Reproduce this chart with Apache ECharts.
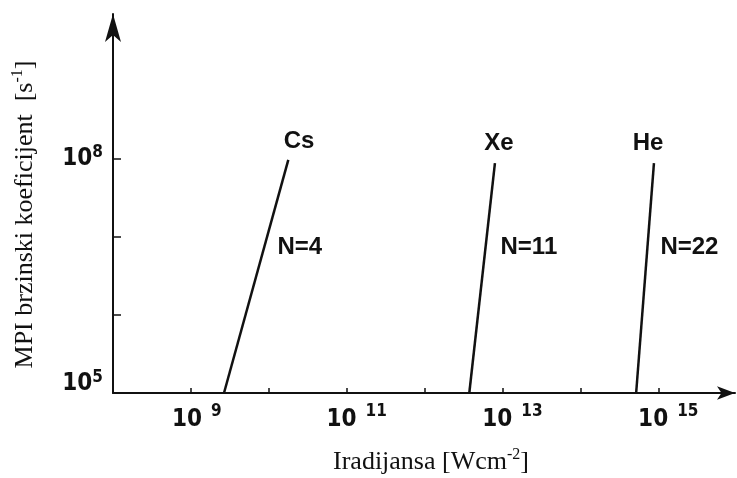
<!DOCTYPE html>
<html>
<head>
<meta charset="utf-8">
<script src="https://cdn.jsdelivr.net/npm/echarts@6/dist/echarts.min.js"></script>
<style>
  html, body { margin: 0; padding: 0; background: #ffffff; }
  #chart { width: 737px; height: 478px; }
</style>
</head>
<body>
<div id="chart"></div>
<script>
// ---- data ----
const elements = ['Cs', 'Xe', 'He'];
const photonNumbers = [4, 11, 22];
const irradianceStart = [2.66e9, 3.75e12, 5.2e14];   // W cm^-2, at the bottom of each line
const irradianceEnd = [1.78e10, 8.0e12, 8.8e14];     // W cm^-2, at the top of each line
const rateStart = [1e5, 1e5, 1e5];                   // s^-1
const rateEnd = [9.8e7, 8.9e7, 8.9e7];               // s^-1
// annotation anchors (data space)
const elementLabelX = [2.44e10, 9.0e12, 7.4e14];
const elementLabelY = [1.67e8, 1.6e8, 1.6e8];
const photonLabelX = [1.27e10, 9.3e12, 1.05e15];
const photonLabelY = [7.5e6, 7.5e6, 7.5e6];
// axes
const xMin = 1e8, xMax = 9.66e15;
const yMin = 1e5, yMax = 7.3e9;
const xTickValues = [1e9, 1e10, 1e11, 1e12, 1e13, 1e14, 1e15];
const xLabelValues = [1e9, 1e11, 1e13, 1e15];
const yTickValues = [1e6, 1e7, 1e8];
const yLabelValues = [1e5, 1e8];

const INK = '#111111';
const TICKFONT = "'Liberation Sans Narrow', 'DejaVu Sans Condensed', 'Liberation Sans', sans-serif";
const ANNOFONT = "'Liberation Sans', Arial, sans-serif";
const SERIF = "'Liberation Serif', 'Times New Roman', serif";

const chart = echarts.init(document.getElementById('chart'), null, { renderer: 'canvas' });

const series = elements.map((el, i) => ({
  type: 'line',
  name: el,
  data: [[irradianceStart[i], rateStart[i]], [irradianceEnd[i], rateEnd[i]]],
  symbol: 'none',
  lineStyle: { color: INK, width: 2.5 },
  silent: true,
  animation: false,
  markPoint: {
    symbol: 'circle',
    symbolSize: 1,
    itemStyle: { color: 'rgba(0,0,0,0)' },
    silent: true,
    data: [
      {
        coord: [elementLabelX[i], elementLabelY[i]],
        label: { show: true, position: 'inside', formatter: el, color: INK, fontFamily: ANNOFONT, fontWeight: 'bold', fontSize: 24 }
      },
      {
        coord: [photonLabelX[i], photonLabelY[i]],
        label: { show: true, position: 'right', distance: 0, formatter: 'N=' + photonNumbers[i], color: INK, fontFamily: ANNOFONT, fontWeight: 'bold', fontSize: 24 }
      }
    ]
  }
}));

const option = {
  backgroundColor: '#ffffff',
  animation: false,
  grid: { left: 113, right: 2, top: 14, bottom: 85, containLabel: false, outerBoundsMode: 'none' },
  xAxis: {
    type: 'log',
    logBase: 10,
    min: xMin,
    max: xMax,
    name: '{n|Iradijansa [Wcm}{sup|-2}{n|]}',
    nameLocation: 'middle',
    nameGap: 54,
    nameTextStyle: {
      padding: [0, 0, 0, 14],
      rich: {
        n: { fontFamily: SERIF, fontSize: 26, color: INK, lineHeight: 30 },
        sup: { fontFamily: SERIF, fontSize: 16, color: INK, verticalAlign: 'top', lineHeight: 16 }
      }
    },
    axisLine: { show: true, onZero: false, symbol: ['none', 'arrow'], symbolSize: [10, 18], lineStyle: { color: INK, width: 2 } },
    axisTick: { show: true, inside: true, length: 5, customValues: xTickValues, lineStyle: { color: INK, width: 1.5 } },
    axisLabel: {
      show: true,
      customValues: xLabelValues,
      margin: 10,
      formatter: function (v) {
        const e = Math.round(Math.log10(v));
        return (e >= 10 ? '{sp2|}' : '{sp1|}') + '{b|10}{s|' + e + '}';
      },
      rich: {
        sp1: { width: 12 },
        sp2: { width: 20 },
        b: { fontFamily: TICKFONT, fontWeight: 'bold', fontSize: 24, color: INK, lineHeight: 34 },
        s: { fontFamily: TICKFONT, fontWeight: 'bold', fontSize: 17, color: INK, verticalAlign: 'top', lineHeight: 16, padding: [0, 0, 0, 9] }
      }
    },
    splitLine: { show: false },
    minorTick: { show: false }
  },
  yAxis: {
    type: 'log',
    logBase: 10,
    min: yMin,
    max: yMax,
    name: '{n|MPI brzinski koeficijent  [s}{sup|-1}{n|]}',
    nameLocation: 'middle',
    nameRotate: 90,
    nameGap: 73,
    nameTextStyle: {
      padding: [0, 22, 0, 0],
      rich: {
        n: { fontFamily: SERIF, fontSize: 26, color: INK, lineHeight: 30 },
        sup: { fontFamily: SERIF, fontSize: 16, color: INK, verticalAlign: 'top', lineHeight: 16 }
      }
    },
    axisLine: { show: true, onZero: false, symbol: ['none', 'arrow'], symbolSize: [12, 28], lineStyle: { color: INK, width: 2 } },
    axisTick: { show: true, inside: true, length: 8, customValues: yTickValues, lineStyle: { color: INK, width: 1.5 } },
    axisLabel: {
      show: true,
      customValues: yLabelValues,
      margin: 10,
      formatter: function (v) {
        const e = Math.round(Math.log10(v));
        if (e === 5) return '{b|10}{s|' + e + '}\n{gap|}';
        return '{b|10}{s|' + e + '}';
      },
      rich: {
        b: { fontFamily: TICKFONT, fontWeight: 'bold', fontSize: 24, color: INK, lineHeight: 30 },
        s: { fontFamily: TICKFONT, fontWeight: 'bold', fontSize: 17, color: INK, verticalAlign: 'top', lineHeight: 16 },
        gap: { lineHeight: 18 }
      }
    },
    splitLine: { show: false },
    minorTick: { show: false }
  },
  series: series
};

chart.setOption(option);
</script>
</body>
</html>
